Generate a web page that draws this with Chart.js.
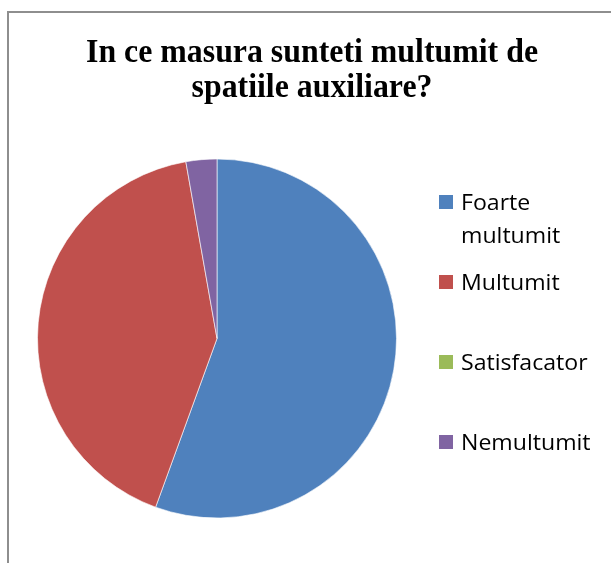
<!DOCTYPE html>
<html>
<head>
<meta charset="utf-8">
<script src="https://cdn.jsdelivr.net/npm/chart.js@4.4.0/dist/chart.umd.min.js"></script>
<style>
  html, body { margin: 0; padding: 0; background: #fff; }
  #box {
    position: absolute; left: 7px; top: 11px;
    width: 604px; height: 552px;
    border-left: 2px solid #8e8e8e; border-top: 2px solid #8e8e8e;
  }
  #wrap { width: 602px; height: 550px; }
</style>
</head>
<body>
<div id="box"><div id="wrap"><canvas id="myChart"></canvas></div></div>
<script>
  const labels = ['Foarte multumit', 'Multumit', 'Satisfacator', 'Nemultumit'];
  const legendLines = [['Foarte', 'multumit'], ['Multumit'], ['Satisfacator'], ['Nemultumit']];
  const answers = [20, 15, 0, 1];
  const colors = ['#4F81BD', '#C0504D', '#9BBB59', '#8064A2'];
  const titleLines = ['In ce masura sunteti multumit de', 'spatiile auxiliare?'];

  // stretch/squeeze text a bit so it fills the same width as the original
  function wideText(ctx, txt, x, y, sx, align) {
    ctx.save();
    ctx.translate(x, y);
    ctx.scale(sx, 1);
    ctx.textAlign = align;
    ctx.fillText(txt, 0, 0);
    ctx.restore();
  }

  const titleAndLegend = {
    id: 'titleAndLegend',
    afterDraw(chart) {
      const ctx = chart.ctx;
      const ds = chart.data.datasets[0];
      ctx.save();
      ctx.textBaseline = 'alphabetic';
      ctx.fillStyle = '#000';
      ctx.font = 'bold 33px "Liberation Serif", "Times New Roman", serif';
      for (let i = 0; i < titleLines.length; i++) {
        wideText(ctx, titleLines[i], 303, 49 + i * 35, 0.965, 'center');
      }
      ctx.font = '21px "Open Sans", sans-serif';
      for (let i = 0; i < chart.data.labels.length; i++) {
        let y = 197 + i * 80;
        ctx.fillStyle = ds.backgroundColor[i];
        ctx.fillRect(430, y - 15, 14, 14);
        ctx.fillStyle = '#000';
        let lines = legendLines[i];
        for (let j = 0; j < lines.length; j++) {
          wideText(ctx, lines[j], 452, y + j * 33, 1.1, 'left');
        }
      }
      ctx.restore();
    }
  };

  const ctx = document.getElementById('myChart');
  new Chart(ctx, {
    type: 'pie',
    data: {
      labels: labels,
      datasets: [{
        data: answers,
        backgroundColor: colors,
        borderColor: 'rgba(255,255,255,0.6)',
        borderWidth: 1
      }]
    },
    options: {
      responsive: true,
      maintainAspectRatio: false,
      animation: false,
      layout: { padding: { left: 28, right: 214, top: 112, bottom: 11 } },
      plugins: {
        legend: { display: false },
        tooltip: { enabled: false },
        title: { display: false }
      }
    },
    plugins: [titleAndLegend]
  });
</script>
</body>
</html>
